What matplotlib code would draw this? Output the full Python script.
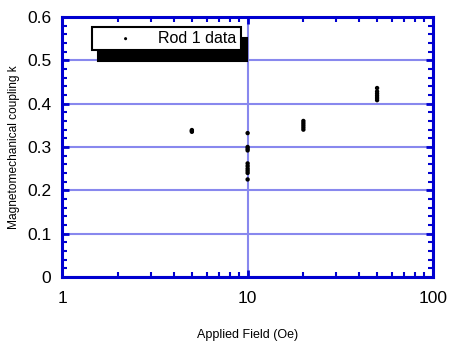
import matplotlib.pyplot as plt
import numpy as np
from matplotlib.ticker import MultipleLocator, FixedLocator, NullFormatter

plt.rcParams['font.family'] = ['Liberation Sans', 'DejaVu Sans']

# coupling k measured at each applied field (Oe)
field_5 = [5, 5, 5]
k_5 = [0.335, 0.337, 0.339]
field_10 = [10] * 10
k_10 = [0.332, 0.300, 0.296, 0.292, 0.262, 0.256, 0.250, 0.245, 0.240, 0.225]
field_20 = [20] * 5
k_20 = [0.340, 0.345, 0.350, 0.355, 0.360]
field_50 = [50] * 6
k_50 = [0.408, 0.413, 0.418, 0.423, 0.428, 0.436]

field = field_5 + field_10 + field_20 + field_50
k = k_5 + k_10 + k_20 + k_50

blue = '#0000d0'
grid_blue = '#8888ee'

fig = plt.figure(figsize=(4.49, 3.47), dpi=100)
ax = fig.add_axes([0.139, 0.202, 0.825, 0.749])

ax.set_xscale('log')
ax.set_xlim(1, 100)
ax.set_ylim(0, 0.6)

ax.scatter(field, k, s=10, color='k', marker='o', edgecolors='none',
           label='Rod 1 data', zorder=3)

ax.set_yticks(np.arange(0, 0.61, 0.1))
ax.set_yticklabels(['0', '0.1', '0.2', '0.3', '0.4', '0.5', '0.6'])
ax.yaxis.set_minor_locator(MultipleLocator(0.02))
ax.set_xticks([1, 10, 100])
ax.set_xticklabels(['1', '10', '100'])
ax.xaxis.set_minor_locator(FixedLocator([2, 3, 4, 5, 6, 7, 8, 9, 20, 30, 40, 50, 60, 70, 80, 90]))
ax.xaxis.set_minor_formatter(NullFormatter())

ax.grid(True, which='major', color=grid_blue, linewidth=1.5)
ax.set_axisbelow(True)

for s in ax.spines.values():
    s.set_color(blue)
    s.set_linewidth(2.2)
    s.set_zorder(4)

ax.tick_params(which='both', direction='in', top=True, right=True, color=blue)
ax.tick_params(which='major', length=5, width=2, labelsize=12.5)
ax.tick_params(which='minor', length=3.5, width=1.5)
ax.tick_params(axis='x', which='major', pad=10)
ax.tick_params(axis='y', which='major', pad=8)

ax.set_xlabel('Applied Field (Oe)', fontsize=9, labelpad=17)
ax.set_ylabel('Magnetomechanical coupling k', fontsize=8.6, labelpad=5)

leg = ax.legend(loc='upper left', bbox_to_anchor=(0.08, 0.962), fontsize=11.5,
                frameon=True, fancybox=False, borderpad=0.25, handletextpad=0.2,
                handlelength=3.7, markerscale=0.7, borderaxespad=0,
                shadow={'color': 'k', 'alpha': 1, 'ox': 4.5, 'oy': -8})
leg.get_frame().set_edgecolor('k')
leg.get_frame().set_linewidth(1.5)
leg.get_frame().set_alpha(1)

fig.savefig('out.png', dpi=100)
